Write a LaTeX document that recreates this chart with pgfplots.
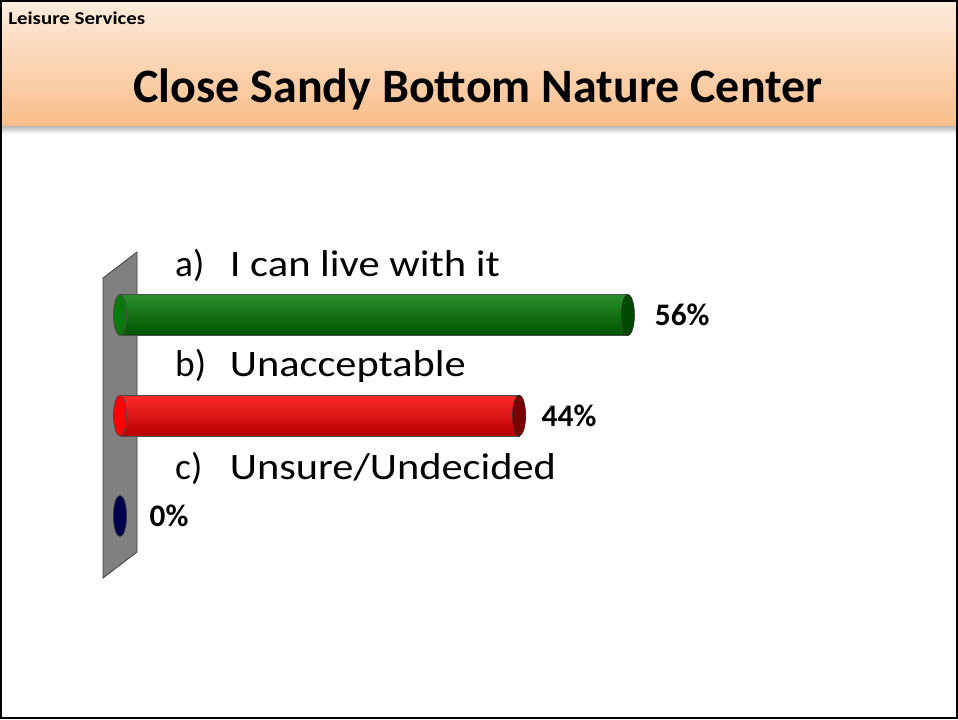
\documentclass[border=0pt]{standalone}
\usepackage{pgfplots}
\pgfplotsset{compat=1.18}
\usepackage{graphicx}
\usepackage{fontspec}
\setmainfont{Carlito}
\definecolor{hdrTop}{HTML}{FDECDD}
\definecolor{hdrBot}{HTML}{F9BE8A}
\definecolor{wallgray}{HTML}{808080}
\definecolor{gTop}{HTML}{2A8F2A}
\definecolor{gMid}{HTML}{0A780A}
\definecolor{gBot}{HTML}{005200}
\definecolor{gCap}{HTML}{004A00}
\definecolor{rTop}{HTML}{FF2A2A}
\definecolor{rMid}{HTML}{FF0000}
\definecolor{rBot}{HTML}{B80000}
\definecolor{rCap}{HTML}{7A0000}
\definecolor{bCap}{HTML}{000050}
\pgfdeclareplotmark{cyl}{%
  \pgfpathellipse{\pgfpointorigin}{\pgfpoint{4.9pt}{0pt}}{\pgfpoint{0pt}{15.4pt}}%
  \pgfusepathqfillstroke}
\begin{document}
\begin{tikzpicture}
\begin{scope}[x=0.75pt,y=-0.75pt]
\useasboundingbox (0,0) rectangle (958,719);
\fill[white] (0,0) rectangle (958,719);
\shade[top color=black!35, bottom color=white] (0,124) rectangle (958,134);
\shade[top color=hdrTop, bottom color=hdrBot] (0,0) rectangle (958,125);
\node[anchor=base west, font=\fontsize{13.5}{15}\selectfont\bfseries, inner sep=0] at (8,24) {\scalebox{1.16}[1]{Leisure Services}};
\node[anchor=base, font=\fontsize{36}{40}\selectfont\bfseries, inner sep=0] at (478,102) {Close Sandy Bottom Nature Center};
\filldraw[fill=wallgray, draw=black!75, line width=0.6pt] (103,278) -- (137,252) -- (137,552) -- (103,578) -- cycle;
\end{scope}
\begin{axis}[at={(90pt,-198.5625pt)}, anchor=north west, scale only axis,
  width=612.225pt, height=226.125pt,
  xmin=0, xmax=90, ymin=-0.5, ymax=2.5, y dir=reverse,
  hide axis, clip=false]
% left rounded ends
\addplot[only marks, mark=cyl, mark options={fill=gMid, draw=black!70, line width=0.5pt}] coordinates {(0,0)};
\addplot[only marks, mark=cyl, mark options={fill=rMid, draw=black!70, line width=0.5pt}] coordinates {(0,1)};
% bars
\addplot[xbar, bar width=30.75pt, bar shift=0pt, draw=black!70, line width=0.5pt,
  top color=gTop, middle color=gMid, bottom color=gBot] coordinates {(56,0)};
\addplot[xbar, bar width=30.75pt, bar shift=0pt, draw=black!70, line width=0.5pt,
  top color=rTop, middle color=rMid, bottom color=rBot] coordinates {(44,1)};
% right caps with value labels
\addplot[only marks, mark=cyl, mark options={fill=gCap, draw=black!80, line width=0.5pt},
  point meta=explicit symbolic, nodes near coords,
  every node near coord/.style={anchor=west, inner sep=0pt, xshift=20pt,
    font=\fontsize{23.5}{26}\selectfont\bfseries, text=black}]
  coordinates {(56,0) [56\%]};
\addplot[only marks, mark=cyl, mark options={fill=rCap, draw=black!80, line width=0.5pt},
  point meta=explicit symbolic, nodes near coords,
  every node near coord/.style={anchor=west, inner sep=0pt, xshift=16.75pt,
    font=\fontsize{23.5}{26}\selectfont\bfseries, text=black}]
  coordinates {(44,1) [44\%]};
\addplot[only marks, mark=cyl, mark options={fill=bCap, draw=black!80, line width=0.5pt},
  point meta=explicit symbolic, nodes near coords,
  every node near coord/.style={anchor=west, inner sep=0pt, xshift=22pt,
    font=\fontsize{23.5}{26}\selectfont\bfseries, text=black}]
  coordinates {(0,2) [0\%]};
% category labels
\node[anchor=base west, inner sep=0pt, font=\fontsize{28}{32}\selectfont] at (axis cs:6.06,-0.38) {\makebox[41pt][l]{a)}\scalebox{1.14}[1]{I can live with it}};
\node[anchor=base west, inner sep=0pt, font=\fontsize{28}{32}\selectfont] at (axis cs:6.06,0.615) {\makebox[41pt][l]{b)}\scalebox{1.135}[1]{Unacceptable}};
\node[anchor=base west, inner sep=0pt, font=\fontsize{28}{32}\selectfont] at (axis cs:6.06,1.635) {\makebox[41pt][l]{c)}\scalebox{1.135}[1]{Unsure/Undecided}};
\end{axis}
\begin{scope}[x=0.75pt,y=-0.75pt]
\draw[black, line width=1.5pt] (1,1) rectangle (957,718);
\end{scope}
\end{tikzpicture}
\end{document}
